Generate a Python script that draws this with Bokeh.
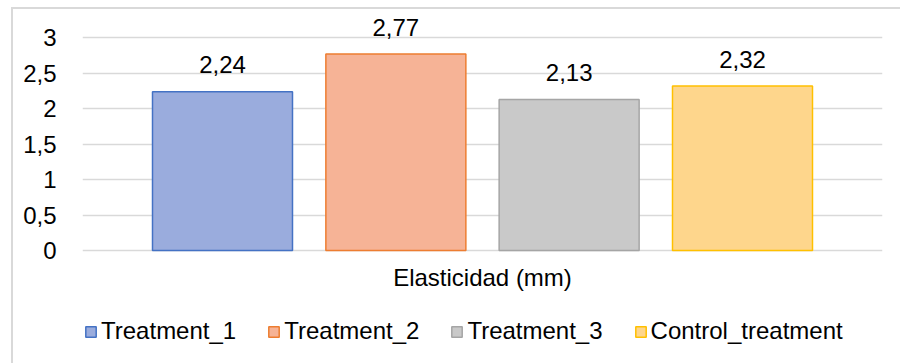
from bokeh.plotting import figure
from bokeh.models import ColumnDataSource, FactorRange, Range1d, FixedTicker, Legend, LegendItem
from bokeh.transform import dodge
from bokeh.core.properties import value
from bokeh.embed import file_html
from bokeh.resources import INLINE

category = "Elasticidad (mm)"
series = ["Treatment_1", "Treatment_2", "Treatment_3", "Control_treatment"]
values = [2.24, 2.77, 2.13, 2.32]
labels = ["2,24", "2,77", "2,13", "2,32"]
y_ticks = [0, 0.5, 1, 1.5, 2, 2.5, 3]
y_tick_labels = ["0", "0,5", "1", "1,5", "2", "2,5", "3"]

fills = ["#9aacdd", "#f6b396", "#c9c9c9", "#fed68c"]
lines = ["#4472c4", "#ed7d31", "#a5a5a5", "#ffc000"]
offsets = [-0.325, -0.1083, 0.1083, 0.325]

FONT = "Liberation Sans"
FS = "24px"

# frame spans the whole lower area so that the legend can live inside it
p = figure(width=900, height=363, output_backend="svg", toolbar_location=None,
           x_range=FactorRange(factors=[category], range_padding=0),
           y_range=Range1d(-1.592, 3.3), x_axis_location=None,
           min_border_left=82, min_border_right=18, min_border_top=16, min_border_bottom=0)
p.outline_line_color = None
p.background_fill_color = "white"
p.border_fill_alpha = 0

items = []
for i, s in enumerate(series):
    src = ColumnDataSource(dict(cat=[category], val=[values[i]], lab=[labels[i]]))
    r = p.vbar(x=dodge("cat", offsets[i], range=p.x_range), top="val", width=0.175, bottom=0,
               source=src, fill_color=fills[i], line_color=lines[i], line_width=1.5)
    p.text(x=dodge("cat", offsets[i], range=p.x_range), y="val", text="lab", source=src,
           text_align="center", text_baseline="middle", y_offset=-27,
           text_font=value(FONT), text_font_size=FS, text_color="#000000")
    items.append(LegendItem(label=s, renderers=[r]))

# category label under the zero line
cat_src = ColumnDataSource(dict(cat=[category], base=[0]))
p.text(x="cat", y="base", text="cat", source=cat_src, text_align="center",
       text_baseline="middle", y_offset=27, text_font=value(FONT), text_font_size=FS,
       text_color="#000000")

# y axis
p.yaxis.ticker = FixedTicker(ticks=y_ticks)
p.yaxis.major_label_overrides = {t: l for t, l in zip(y_ticks, y_tick_labels)}
p.yaxis.axis_line_color = None
p.yaxis.major_tick_line_color = None
p.yaxis.minor_tick_line_color = None
p.yaxis.major_label_standoff = 20
p.yaxis.major_label_text_font = FONT
p.yaxis.major_label_text_font_size = FS
p.yaxis.major_label_text_color = "#000000"

for g in p.grid:
    if g.dimension == 0:
        g.grid_line_color = None
        g.visible = False
p.ygrid.grid_line_color = "#d9d9d9"
p.ygrid.grid_line_width = 1.5
p.ygrid.ticker = FixedTicker(ticks=y_ticks)

legend = Legend(items=items, orientation="horizontal", location=(2, 18),
                glyph_width=13, glyph_height=13, label_standoff=4, spacing=31,
                label_height=26, padding=5, margin=0, border_line_color=None,
                background_fill_alpha=0,
                label_text_font=FONT, label_text_font_size=FS, label_text_color="#000000")
p.add_layout(legend, "center")

p.styles = {"background": "linear-gradient(#d9d9d9,#d9d9d9) 11px 7px / 2px 400px no-repeat, "
                          "linear-gradient(#d9d9d9,#d9d9d9) 11px 7px / 900px 2px no-repeat, white"}

open("out.html", "w").write(file_html(p, INLINE))
